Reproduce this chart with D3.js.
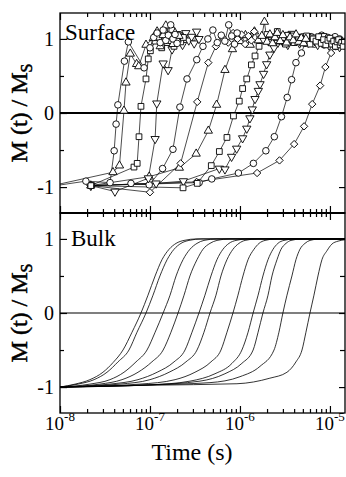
<!DOCTYPE html>
<html>
<head>
<meta charset="utf-8">
<title>Magnetization reversal: surface and bulk</title>
<script src="https://cdn.jsdelivr.net/npm/d3@7/dist/d3.min.js"></script>
<style>
  html, body { margin: 0; padding: 0; background: #fff; }
  svg { display: block; font-family: "Liberation Serif", "Times New Roman", Times, serif; }
  svg text { font-family: "Liberation Serif", "Times New Roman", Times, serif; }
</style>
</head>
<body>
<svg id="chart" width="346" height="477"></svg>
<script>
// ---- Surface: M(t)/Ms samples, [time (s), M/Ms], one array per run ----
const surface1 = [[9.0e-9,-0.98],[1.94e-8,-0.92],[3.6e-8,-0.94],[4.0e-8,-0.51],[4.2e-8,-0.15],[4.4e-8,0.11],[5.2e-8,0.70],[5.75e-8,0.96],[8.6e-8,0.61],[1.0e-7,0.88],[1.1e-7,1.02],[1.2e-7,1.08],[1.3e-7,0.95],[1.4e-7,1.12],[1.5e-7,0.98],[1.6e-7,1.05],[1.7e-7,1.19],[1.8e-7,1.0],[1.9e-7,1.06],[2.0e-7,0.94]];
const surface2 = [[9.0e-9,-0.97],[3.88e-8,-0.8],[4.58e-8,-0.71],[5.14e-8,0.03],[5.41e-8,0.41],[6.04e-8,0.80],[7.1e-8,0.66],[7.5e-8,0.63],[9.03e-8,0.92],[1.09e-7,1.01],[1.2e-7,1.1],[1.3e-7,0.9],[1.4e-7,1.05],[1.5e-7,1.18],[1.6e-7,0.97],[1.7e-7,1.03],[1.8e-7,0.93],[1.9e-7,1.08],[2.0e-7,0.99],[2.1e-7,1.04]];
const surface3 = [[2.2e-8,-0.98],[6.64e-8,-0.73],[7.21e-8,-0.68],[7.55e-8,-0.32],[7.94e-8,0.09],[9.03e-8,0.46],[9.57e-8,0.73],[1.01e-7,0.84],[1.14e-7,0.97],[1.25e-7,1.02],[1.35e-7,0.88],[1.45e-7,1.1],[1.55e-7,0.95],[1.65e-7,1.04],[1.75e-7,1.12],[1.85e-7,0.9],[1.95e-7,1.0],[2.05e-7,1.06],[2.2e-7,0.96],[2.35e-7,1.02]];
const surface4 = [[2.2e-8,-0.98],[4.08e-8,-1.06],[9.6e-8,-0.88],[1.14e-7,-0.35],[1.19e-7,0.13],[1.40e-7,0.67],[1.59e-7,0.58],[1.76e-7,0.86],[1.9e-7,0.97],[2.1e-7,1.05],[2.3e-7,0.92],[2.5e-7,1.08],[2.7e-7,0.98],[2.9e-7,1.03],[3.1e-7,0.94],[3.3e-7,1.1],[3.5e-7,1.0]];
const surface5 = [[6.15e-8,-0.95],[9.8e-8,-0.97],[1.38e-7,-0.75],[1.80e-7,-0.49],[2.15e-7,0.08],[2.58e-7,0.46],[3.31e-7,0.72],[3.88e-7,0.9],[4.4e-7,1.0],[5.0e-7,1.12],[5.6e-7,0.95],[6.2e-7,1.05],[6.8e-7,0.97],[7.5e-7,1.19],[8.1e-7,1.04],[8.7e-7,0.93],[9.3e-7,1.08]];
const surface6 = [[2.2e-8,-0.98],[1.0e-7,-1.07],[2.19e-7,-0.68],[3.35e-7,0.15],[4.45e-7,0.68],[5.4e-7,0.9],[6.4e-7,1.02],[7.4e-7,0.95],[8.4e-7,1.08],[9.4e-7,1.0],[1.04e-6,1.06],[1.14e-6,0.93],[1.24e-6,1.04],[1.34e-6,0.98],[1.44e-6,1.1]];
const surface7 = [[2.2e-8,-0.98],[9.8e-8,-0.86],[2.12e-7,-0.74],[3.26e-7,-0.55],[4.45e-7,-0.24],[5.5e-7,0.11],[6.81e-7,0.58],[8.25e-7,0.86],[1.0e-6,0.97],[1.15e-6,1.05],[1.3e-6,0.92],[1.45e-6,1.1],[1.6e-6,0.98],[1.75e-6,1.04],[1.87e-6,1.23],[2.0e-6,0.96],[2.15e-6,1.06],[2.3e-6,0.94],[2.45e-6,1.02],[2.6e-6,1.08],[2.8e-6,0.97],[3.0e-6,1.05],[3.3e-6,0.95],[3.6e-6,1.02],[3.9e-6,0.98],[4.2e-6,1.06],[4.5e-6,0.96],[4.8e-6,1.01],[5.1e-6,0.94],[5.4e-6,1.0]];
const surface8 = [[2.2e-8,-0.98],[2.33e-7,-1.01],[3.35e-7,-0.95],[4.8e-7,-0.71],[5.9e-7,-0.52],[7.17e-7,-0.33],[8.47e-7,-0.04],[9.82e-7,0.16],[1.07e-6,0.33],[1.19e-6,0.46],[1.34e-6,0.65],[1.47e-6,0.77],[1.63e-6,0.9],[1.8e-6,0.98],[2.0e-6,1.06],[2.2e-6,0.95],[2.4e-6,1.03],[2.6e-6,1.1],[2.8e-6,0.97],[3.0e-6,1.02],[3.2e-6,0.93],[3.4e-6,1.05],[3.6e-6,0.99],[3.8e-6,1.04],[4.0e-6,0.95],[4.5e-6,1.02],[5.0e-6,0.96],[5.5e-6,1.04],[6.0e-6,0.93],[6.5e-6,1.0],[7.0e-6,0.97],[7.5e-6,1.03],[8.0e-6,0.94],[8.5e-6,0.99],[9.0e-6,0.92],[9.5e-6,0.98],[1.0e-5,1.01],[1.05e-5,0.93],[1.1e-5,0.97],[1.15e-5,0.9],[1.2e-5,0.96],[1.25e-5,0.99],[1.3e-5,0.92],[1.35e-5,0.95],[1.4e-5,0.9],[1.45e-5,0.97]];
const surface9 = [[2.2e-8,-0.98],[1.17e-7,-0.95],[2.35e-7,-0.92],[5.9e-7,-0.75],[6.81e-7,-0.76],[8.07e-7,-0.59],[9.19e-7,-0.48],[1.07e-6,-0.34],[1.19e-6,-0.21],[1.29e-6,-0.07],[1.37e-6,0.05],[1.47e-6,0.19],[1.6e-6,0.30],[1.67e-6,0.39],[1.83e-6,0.53],[1.98e-6,0.66],[2.15e-6,0.79],[2.39e-6,0.88],[2.64e-6,0.95],[2.8e-6,1.02],[3.0e-6,0.96],[3.2e-6,1.05],[3.4e-6,0.92],[3.6e-6,1.0],[3.8e-6,1.07],[4.0e-6,0.97],[4.3e-6,1.03],[4.6e-6,0.94],[4.9e-6,1.01],[5.2e-6,0.98],[5.5e-6,1.04],[5.8e-6,0.95],[6.3e-6,1.02],[6.8e-6,0.97],[7.3e-6,0.92],[7.8e-6,1.0],[8.3e-6,1.04],[8.8e-6,0.95],[9.3e-6,0.98],[9.8e-6,0.91],[1.03e-5,0.99],[1.08e-5,0.95],[1.13e-5,0.92],[1.18e-5,0.98],[1.23e-5,0.94],[1.28e-5,0.89],[1.33e-5,0.97],[1.38e-5,0.93],[1.43e-5,0.96]];
const surface10 = [[2.2e-8,-0.98],[3.52e-7,-0.94],[4.86e-7,-0.89],[9.61e-7,-0.81],[1.41e-6,-0.68],[1.94e-6,-0.51],[2.41e-6,-0.32],[2.89e-6,-0.05],[3.35e-6,0.21],[3.75e-6,0.45],[4.19e-6,0.68],[4.82e-6,0.81],[5.27e-6,0.94],[5.75e-6,0.98],[6.2e-6,1.03],[6.7e-6,0.93],[7.2e-6,1.0],[7.6e-6,0.96],[8.1e-6,1.05],[8.6e-6,0.92],[9.0e-6,0.99],[9.5e-6,1.02],[1.0e-5,0.94],[1.05e-5,1.0],[1.09e-5,0.96],[1.14e-5,1.03],[1.19e-5,0.9],[1.23e-5,0.97],[1.28e-5,1.0],[1.33e-5,0.93],[1.37e-5,0.96],[1.42e-5,0.91],[1.47e-5,0.95]];
const surface11 = [[2.2e-8,-0.98],[3.3e-7,-0.93],[1.55e-6,-0.81],[2.75e-6,-0.64],[4.0e-6,-0.42],[5.16e-6,-0.18],[6.35e-6,0.12],[7.78e-6,0.37],[8.9e-6,0.62],[1.03e-5,0.81],[1.15e-5,0.9],[1.28e-5,0.97],[1.4e-5,0.95]];
const surfaceMarkers = ["circle", "triangle", "square", "triangleDown", "circle", "diamond",
                        "triangle", "square", "triangleDown", "circle", "diamond"];

// ---- Bulk: M(t)/Ms curves, [time (s), M/Ms] ----
const bulk1 = [[1e-8,-1],[1.47e-8,-0.96],[2.15e-8,-0.9],[3.0e-8,-0.8],[3.88e-8,-0.67],[5.01e-8,-0.5],[6.31e-8,-0.26],[7.94e-8,0],[9.5e-8,0.24],[1.14e-7,0.5],[1.36e-7,0.72],[1.63e-7,0.86],[1.95e-7,0.94],[2.39e-7,0.98],[3.33e-7,1],[1.5e-5,1]];
const bulk2 = [[1e-8,-1],[1.59e-8,-0.96],[2.39e-8,-0.9],[3.33e-8,-0.8],[4.41e-8,-0.66],[5.84e-8,-0.5],[7.17e-8,-0.26],[9.03e-8,0],[1.08e-7,0.24],[1.29e-7,0.5],[1.55e-7,0.72],[1.85e-7,0.86],[2.21e-7,0.94],[2.71e-7,0.98],[3.78e-7,1],[1.5e-5,1]];
const bulk3 = [[1e-8,-1],[2.15e-8,-0.96],[3.59e-8,-0.9],[5.14e-8,-0.8],[6.99e-8,-0.66],[9.26e-8,-0.5],[1.14e-7,-0.26],[1.40e-7,0],[1.67e-7,0.24],[1.95e-7,0.5],[2.33e-7,0.72],[2.78e-7,0.86],[3.33e-7,0.94],[3.98e-7,0.98],[5.55e-7,1],[1.5e-5,1]];
const bulk4 = [[1e-8,-1],[2.78e-8,-0.96],[4.89e-8,-0.9],[7.36e-8,-0.8],[1.05e-7,-0.66],[1.40e-7,-0.5],[1.71e-7,-0.26],[2.05e-7,0],[2.39e-7,0.24],[2.78e-7,0.5],[3.33e-7,0.72],[3.88e-7,0.86],[4.64e-7,0.94],[5.55e-7,0.98],[7.74e-7,1],[1.5e-5,1]];
const bulk5 = [[1e-8,-1],[3.59e-8,-0.96],[7.36e-8,-0.9],[1.20e-7,-0.8],[1.85e-7,-0.66],[2.45e-7,-0.5],[2.93e-7,-0.26],[3.50e-7,0],[4.08e-7,0.24],[4.76e-7,0.5],[5.55e-7,0.72],[6.47e-7,0.86],[7.55e-7,0.94],[9.03e-7,0.98],[1.23e-6,1],[1.5e-5,1]];
const bulk6 = [[1e-8,-1],[4.64e-8,-0.96],[1.0e-7,-0.9],[1.63e-7,-0.8],[2.51e-7,-0.66],[3.33e-7,-0.5],[3.98e-7,-0.26],[4.64e-7,0],[5.41e-7,0.24],[6.15e-7,0.5],[7.17e-7,0.72],[8.36e-7,0.86],[9.75e-7,0.94],[1.14e-6,0.98],[1.55e-6,1],[1.5e-5,1]];
const bulk7 = [[1e-8,-1],[7.74e-8,-0.96],[1.90e-7,-0.9],[3.16e-7,-0.8],[4.76e-7,-0.66],[6.15e-7,-0.5],[7.17e-7,-0.26],[8.36e-7,0],[9.50e-7,0.24],[1.08e-6,0.5],[1.23e-6,0.72],[1.43e-6,0.86],[1.63e-6,0.94],[1.90e-6,0.98],[2.51e-6,1],[1.5e-5,1]];
const bulk8 = [[1e-8,-1],[1.0e-7,-0.97],[2.78e-7,-0.92],[5.28e-7,-0.82],[8.15e-7,-0.68],[1.05e-6,-0.5],[1.23e-6,-0.26],[1.40e-6,0],[1.59e-6,0.24],[1.80e-6,0.5],[2.05e-6,0.72],[2.33e-6,0.86],[2.64e-6,0.94],[3.08e-6,0.98],[4.08e-6,1],[1.5e-5,1]];
const bulk9 = [[1e-8,-1],[1.0e-7,-0.97],[3.59e-7,-0.92],[6.81e-7,-0.82],[1.05e-6,-0.68],[1.40e-6,-0.5],[1.59e-6,-0.26],[1.80e-6,0],[2.05e-6,0.24],[2.27e-6,0.5],[2.58e-6,0.72],[2.86e-6,0.86],[3.25e-6,0.94],[3.69e-6,0.98],[4.89e-6,1],[1.5e-5,1]];
const bulk10 = [[1e-8,-1],[1.0e-7,-0.97],[4.64e-7,-0.94],[1.0e-6,-0.86],[1.67e-6,-0.72],[2.39e-6,-0.5],[2.71e-6,-0.26],[3.0e-6,0],[3.33e-6,0.24],[3.78e-6,0.5],[4.19e-6,0.72],[4.64e-6,0.86],[5.28e-6,0.94],[6.0e-6,0.98],[7.74e-6,1],[1.5e-5,1]];
const bulk11 = [[1e-8,-1],[1.0e-7,-0.975],[9.26e-7,-0.955],[2.15e-6,-0.88],[3.33e-6,-0.8],[4.19e-6,-0.66],[4.89e-6,-0.5],[5.41e-6,-0.26],[6.0e-6,0],[6.64e-6,0.24],[7.36e-6,0.5],[8.15e-6,0.72],[9.26e-6,0.84],[1.05e-5,0.93],[1.23e-5,0.97],[1.5e-5,0.99]];

// ---- Axes ----
const timeDomain = [1e-8, 1.47e-5];
const magDomain = [-1.35, 1.35];
const xTickValues = [1e-8, 1e-7, 1e-6, 1e-5];
const xTickExponents = ["-8", "-7", "-6", "-5"];
const yTickValues = [-1, 0, 1];
const yMinorTickValues = [-0.5, 0.5];
const panelLabels = ["Surface", "Bulk"];

const surfaceSeries = [surface1, surface2, surface3, surface4, surface5, surface6,
                       surface7, surface8, surface9, surface10, surface11];
const bulkSeries = [bulk1, bulk2, bulk3, bulk4, bulk5, bulk6, bulk7, bulk8, bulk9, bulk10, bulk11];

const SERIF = '"Liberation Serif", "Times New Roman", Times, serif';
const svg = d3.select("#chart");
const left = 60, right = 345;
const panels = [{ top: 13, bottom: 213 }, { top: 213, bottom: 413 }];

const x = d3.scaleLog().domain(timeDomain).range([left, right]);
const yScales = panels.map(p => d3.scaleLinear().domain(magDomain).range([p.bottom, p.top]));

// minor ticks 2..9 inside every decade of the time axis
const xMinorTickValues = [];
xTickValues.forEach(d => {
  for (let m = 2; m <= 9; m++) {
    const v = m * d;
    if (v < timeDomain[1]) xMinorTickValues.push(v);
  }
});

const defs = svg.append("defs");
panels.forEach((p, i) => {
  defs.append("clipPath").attr("id", "panel-clip-" + i)
    .append("rect")
    .attr("x", left).attr("y", p.top)
    .attr("width", right - left).attr("height", p.bottom - p.top);
});

// zero reference lines
[2, 1.2].forEach((w, i) => {
  svg.append("line")
    .attr("x1", left).attr("x2", right)
    .attr("y1", yScales[i](0)).attr("y2", yScales[i](0))
    .attr("stroke", "#000").attr("stroke-width", w);
});

// ---- Surface panel: connected symbols ----
const yS = yScales[0];
const gSurf = svg.append("g").attr("clip-path", "url(#panel-clip-0)");
const surfLine = d3.line().x(d => x(d[0])).y(d => yS(d[1]));

surfaceSeries.forEach(s => {
  gSurf.append("path")
    .attr("d", surfLine(s))
    .attr("fill", "none")
    .attr("stroke", "#000")
    .attr("stroke-width", 0.7);
});

const symbolSpec = {
  circle:       { type: d3.symbolCircle,   size: 34, rot: 0 },
  triangle:     { type: d3.symbolTriangle, size: 30, rot: 0 },
  triangleDown: { type: d3.symbolTriangle, size: 30, rot: 180 },
  square:       { type: d3.symbolSquare,   size: 33, rot: 0 },
  diamond:      { type: d3.symbolSquare,   size: 27, rot: 45 }
};

for (let i = surfaceSeries.length - 1; i >= 0; i--) {
  const spec = symbolSpec[surfaceMarkers[i]];
  const path = d3.symbol().type(spec.type).size(spec.size)();
  gSurf.append("g").selectAll("path")
    .data(surfaceSeries[i])
    .join("path")
    .attr("d", path)
    .attr("transform", d => `translate(${x(d[0])},${yS(d[1])}) rotate(${spec.rot})`)
    .attr("fill", "#fff")
    .attr("stroke", "#000")
    .attr("stroke-width", 0.9);
}

// ---- Bulk panel: smooth curves ----
const yB = yScales[1];
const gBulk = svg.append("g").attr("clip-path", "url(#panel-clip-1)");
const bulkLine = d3.line().x(d => x(d[0])).y(d => yB(d[1])).curve(d3.curveMonotoneX);
bulkSeries.forEach(s => {
  gBulk.append("path")
    .attr("d", bulkLine(s))
    .attr("fill", "none")
    .attr("stroke", "#000")
    .attr("stroke-width", 0.8);
});

// ---- Frames and ticks ----
function cleanAxis(g) {
  g.attr("font-family", null).attr("font-size", null);
  g.select(".domain").remove();
  g.selectAll(".tick line").attr("stroke", "#000").attr("stroke-width", 1.2);
}

function xTicks(axisMaker, y) {
  svg.append("g").attr("transform", `translate(0,${y})`)
    .call(axisMaker(x).tickValues(xTickValues).tickSize(-7).tickFormat(""))
    .call(cleanAxis);
  svg.append("g").attr("transform", `translate(0,${y})`)
    .call(axisMaker(x).tickValues(xMinorTickValues).tickSize(-4).tickFormat(""))
    .call(cleanAxis);
}

panels.forEach((p, i) => {
  xTicks(d3.axisTop, p.top);
  xTicks(d3.axisBottom, p.bottom);

  const ys = yScales[i];
  svg.append("g").attr("transform", `translate(${left},0)`)
    .call(d3.axisLeft(ys).tickValues(yTickValues).tickSize(-7).tickPadding(6)
      .tickFormat(d => String(d)))
    .call(cleanAxis)
    .call(g => g.selectAll("text")
      .style("font-family", SERIF)
      .style("font-size", "20px")
      .attr("fill", "#000"));
  svg.append("g").attr("transform", `translate(${left},0)`)
    .call(d3.axisLeft(ys).tickValues(yMinorTickValues).tickSize(-4).tickFormat(""))
    .call(cleanAxis);
  svg.append("g").attr("transform", `translate(${right},0)`)
    .call(d3.axisRight(ys).tickValues(yTickValues).tickSize(-6).tickFormat(""))
    .call(cleanAxis);
  svg.append("g").attr("transform", `translate(${right},0)`)
    .call(d3.axisRight(ys).tickValues(yMinorTickValues).tickSize(-5).tickFormat(""))
    .call(cleanAxis);

  svg.append("rect")
    .attr("x", left).attr("y", p.top)
    .attr("width", right - left).attr("height", p.bottom - p.top)
    .attr("fill", "none").attr("stroke", "#000").attr("stroke-width", 1.3);

  // vertical axis title (heavy serif face via a thin outline)
  const title = svg.append("text")
    .attr("transform", `translate(27,${ys(0)}) rotate(-90)`)
    .attr("text-anchor", "middle")
    .style("font-family", SERIF)
    .style("font-size", "24px")
    .attr("fill", "#000")
    .attr("stroke", "#000")
    .attr("stroke-width", 0.5);
  title.append("tspan").text("M (t) / M");
  title.append("tspan").style("font-size", "16px").attr("dy", 5).text("S");
});

// shared edge between the panels is heavier
svg.append("line")
  .attr("x1", left).attr("x2", right)
  .attr("y1", panels[0].bottom).attr("y2", panels[0].bottom)
  .attr("stroke", "#000").attr("stroke-width", 2);

// panel names
svg.append("text").attr("x", 65).attr("y", 40).style("font-size", "23px").text(panelLabels[0]);
svg.append("text").attr("x", 71).attr("y", 246).style("font-size", "23px").text(panelLabels[1]);

// decade labels under the bottom panel
xTickValues.forEach((v, i) => {
  const t = svg.append("text")
    .attr("x", x(v)).attr("y", 430)
    .attr("text-anchor", "middle")
    .style("font-size", "19px");
  t.append("tspan").text("10");
  t.append("tspan").attr("dy", -9).style("font-size", "13px").text(xTickExponents[i]);
});

svg.append("text")
  .attr("x", 192).attr("y", 460)
  .attr("text-anchor", "middle")
  .style("font-size", "24px")
  .text("Time (s)");
</script>
</body>
</html>
